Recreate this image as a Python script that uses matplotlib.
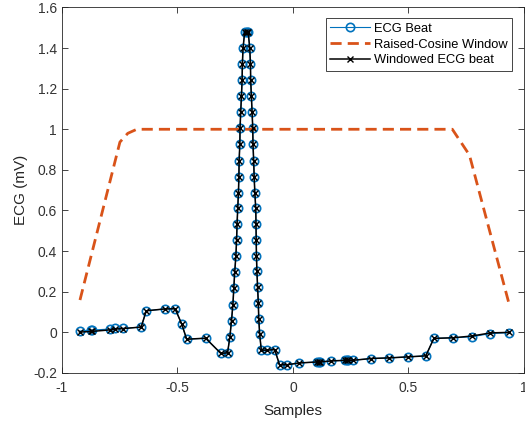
import numpy as np
import matplotlib
matplotlib.use("Agg")
import matplotlib.pyplot as plt

plt.rcParams['font.family'] = ['Liberation Sans', 'DejaVu Sans']
plt.rcParams['axes.unicode_minus'] = False

# ECG beat samples
ecg_x = [-0.924, -0.876, -0.872, -0.793, -0.769, -0.737, -0.657, -0.635, -0.556, -0.51,
         -0.482, -0.46, -0.378, -0.312, -0.283, -0.273, -0.266, -0.26, -0.256, -0.252,
         -0.247, -0.244, -0.242, -0.239, -0.236, -0.234, -0.233, -0.23, -0.229, -0.226,
         -0.223, -0.22, -0.219, -0.216, -0.209, -0.201, -0.194, -0.187, -0.184, -0.183,
         -0.18, -0.177, -0.174, -0.173, -0.17, -0.168, -0.165, -0.161, -0.16, -0.159,
         -0.158, -0.156, -0.153, -0.15, -0.148, -0.144, -0.137, -0.113, -0.079, -0.058,
         -0.026, 0.026, 0.105, 0.112, 0.119, 0.165, 0.225, 0.232, 0.24, 0.258,
         0.34, 0.416, 0.498, 0.575, 0.61, 0.694, 0.775, 0.855, 0.937]
ecg_y = [0.006, 0.011, 0.011, 0.016, 0.019, 0.019, 0.026, 0.106, 0.115, 0.116,
         0.042, -0.034, -0.029, -0.104, -0.101, -0.022, 0.057, 0.136, 0.217, 0.298,
         0.377, 0.453, 0.532, 0.61, 0.688, 0.767, 0.846, 0.925, 1.006, 1.087,
         1.164, 1.244, 1.321, 1.4, 1.48, 1.48, 1.48, 1.4, 1.321, 1.244,
         1.164, 1.087, 1.006, 0.925, 0.846, 0.767, 0.688, 0.61, 0.532, 0.453,
         0.377, 0.3, 0.222, 0.145, 0.067, -0.01, -0.088, -0.088, -0.085, -0.16,
         -0.16, -0.151, -0.146, -0.146, -0.146, -0.141, -0.138, -0.138, -0.138, -0.138,
         -0.129, -0.126, -0.121, -0.116, -0.03, -0.027, -0.022, -0.006, -0.002]

# raised-cosine window vertices
win_x = [-0.922, -0.749, -0.715, -0.676, 0.69, 0.764, 0.937]
win_y = [0.159, 0.937, 0.98, 1.0, 1.0, 0.873, 0.134]

ecg_x = np.array(ecg_x)
ecg_y = np.array(ecg_y)
windowed_y = ecg_y * np.interp(ecg_x, win_x, win_y)

fig = plt.figure(figsize=(5.25, 4.23), dpi=100)
ax = fig.add_axes([0.118, 0.1184, 0.880, 0.864])

ax.plot(ecg_x, ecg_y, color='#0072BD', lw=0.8, marker='o', ms=6,
        mfc='none', mew=1.2, label='ECG Beat')
ax.plot(win_x, win_y, color='#D95319', lw=2, dashes=(4, 2.2),
        label='Raised-Cosine Window')
ax.plot(ecg_x, windowed_y, color='black', lw=1.1, marker='x', ms=4.5,
        mew=1.0, label='Windowed ECG beat')

ax.set_xlim(-1, 1)
ax.set_ylim(-0.2, 1.6)
ax.set_xticks([-1, -0.5, 0, 0.5, 1])
ax.set_xticklabels(['-1', '-0.5', '0', '0.5', '1'])
yt = [-0.2, 0, 0.2, 0.4, 0.6, 0.8, 1, 1.2, 1.4, 1.6]
ax.set_yticks(yt)
ax.set_yticklabels(['-0.2', '0', '0.2', '0.4', '0.6', '0.8', '1', '1.2', '1.4', '1.6'])
ax.tick_params(direction='in', length=4, width=0.6, colors='#262626',
               labelcolor='#333333', labelsize=10, top=True, right=True)
ax.tick_params(axis='x', pad=6)
for s in ax.spines.values():
    s.set_color('#262626')
    s.set_linewidth(0.6)

ax.set_xlabel('Samples', fontsize=11, color='#262626', labelpad=6)
ax.set_ylabel('ECG (mV)', fontsize=11, color='#262626')

leg = ax.legend(loc='upper right', bbox_to_anchor=(0.975, 0.971), borderaxespad=0,
                fontsize=9.3, fancybox=False, framealpha=1, edgecolor='#262626',
                handlelength=3.1, handletextpad=0.3, borderpad=0.35, labelspacing=0.3)
leg.get_frame().set_linewidth(0.6)

fig.savefig('out.png', dpi=100)
